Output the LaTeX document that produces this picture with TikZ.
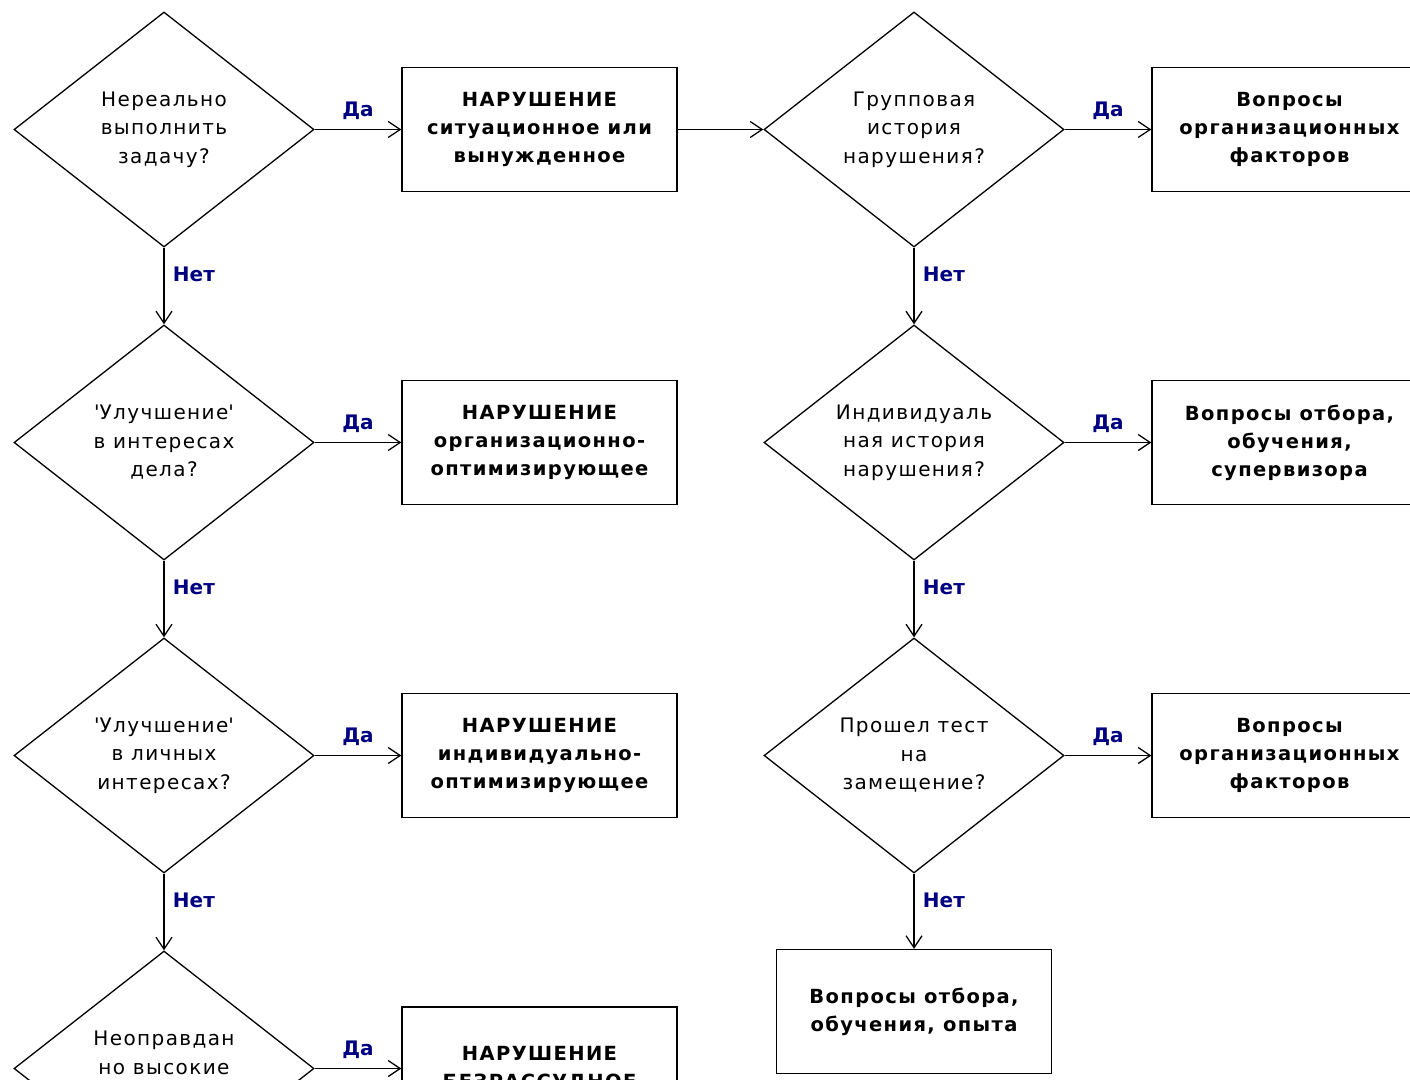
\documentclass[tikz,border=0pt]{standalone}
\usepackage{fontspec}
\setmainfont{DejaVu Sans}[LetterSpace=7]
\newfontfamily\labfont{DejaVu Sans}
\usetikzlibrary{arrows.meta,positioning,shapes.geometric}
\definecolor{labblue}{RGB}{0,0,128}

\begin{document}
\begin{tikzpicture}[x=1pt, y=-1pt,
  arr/.style = {-{Straight Barb[length=12pt,width=16pt]}, line width=1.3pt},
  askdiam/.style = {draw, diamond, line width=1.3pt, minimum width=300pt,
                    minimum height=235pt, inner sep=0pt, align=center,
                    font=\fontsize{20}{28.5}\selectfont},
  outbox/.style = {draw, rectangle, line width=1.3pt, minimum width=275pt,
                   minimum height=124pt, align=center,
                   font=\fontsize{19.5}{28}\selectfont\bfseries},
  anslab/.style = {font=\labfont\fontsize{20}{24}\selectfont\bfseries, text=labblue},
]
\useasboundingbox (0,0) rectangle (1410,1079);
\clip (0,0) rectangle (1410,1079);

% Left column of questions
\node[askdiam] (imposs) at (164, 129.5) {Нереально\\выполнить\\задачу?};
\node[askdiam] (orgopt) at (164, 442.5) {\textquotesingle Улучшение\textquotesingle\\в интересах\\дела?};
\node[askdiam] (indopt) at (164, 755.5) {\textquotesingle Улучшение\textquotesingle\\в личных\\интересах?};
\node[askdiam] (reckl) at (164, 1068.5) {};
\node[font=\fontsize{20}{28.5}\selectfont, align=center] (reckltxt)
  at (164, 1053) {Неоправдан\\но высокие};

% Left column of outcomes
\node[outbox] (sitvio) at (539.5, 129.5) {НАРУШЕНИЕ\\ситуационное или\\вынужденное};
\node[outbox] (orgvio) at (539.5, 442.5) {НАРУШЕНИЕ\\организационно-\\оптимизирующее};
\node[outbox] (indvio) at (539.5, 755.5) {НАРУШЕНИЕ\\индивидуально-\\оптимизирующее};
\node[outbox] (reckvio) at (539.5, 1069) {НАРУШЕНИЕ\\БЕЗРАССУДНОЕ};

% Right column of questions
\node[askdiam] (group) at (914, 129.5) {Групповая\\история\\нарушения?};
\node[askdiam] (indiv) at (914, 442.5) {Индивидуаль\\ная история\\нарушения?};
\node[askdiam] (subst) at (914, 755.5) {Прошел тест\\на\\замещение?};

% Right column of outcomes
\node[outbox] (orgfac) at (1289.5, 129.5) {Вопросы\\организационных\\факторов};
\node[outbox] (selsup) at (1289.5, 442.5) {Вопросы отбора,\\обучения,\\супервизора};
\node[outbox] (orgfac2) at (1289.5, 755.5) {Вопросы\\организационных\\факторов};
\node[outbox] (selexp) at (914, 1011.5) {Вопросы отбора,\\обучения, опыта};

% Yes arrows
\foreach \q/\a in {imposs/sitvio, orgopt/orgvio, indopt/indvio, reckl/reckvio,
                   group/orgfac, indiv/selsup, subst/orgfac2}
  \draw[arr] (\q.east) -- node[anslab, above=6pt] {Да} (\q.east -| \a.west);

% No arrows
\foreach \q/\n in {imposs/orgopt, orgopt/indopt, indopt/reckl,
                   group/indiv, indiv/subst, subst/selexp}
  \draw[arr] (\q.south) -- node[anslab, right=5pt, pos=0.35] {Нет} (\n.north);

% Bridge between columns
\draw[arr] (sitvio.east) -- (group.west);
\end{tikzpicture}
\end{document}
